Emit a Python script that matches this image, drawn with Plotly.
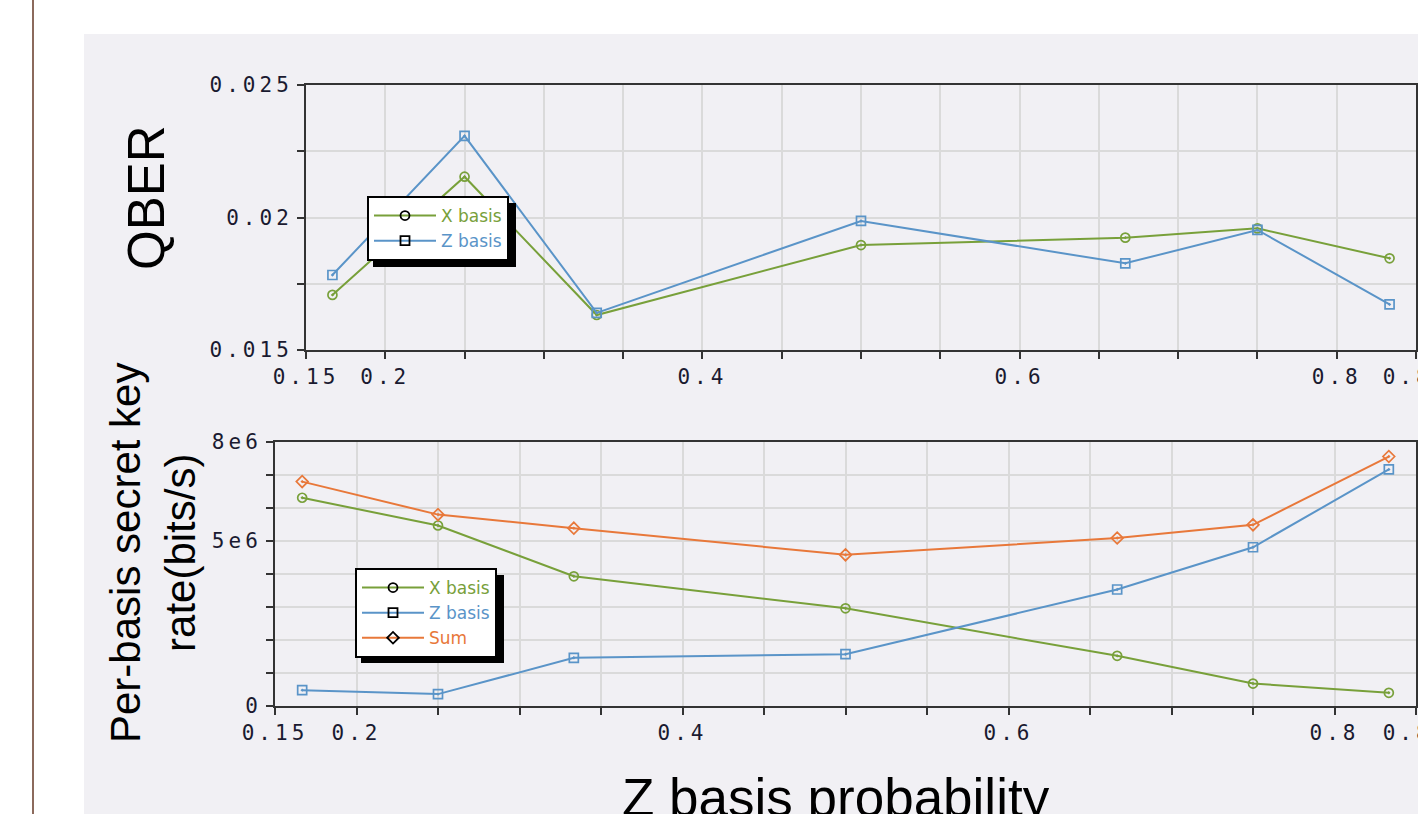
import plotly.graph_objects as go

# ---------------- data ----------------
z_prob = [1/6, 1/4, 1/3, 1/2, 2/3, 3/4, 5/6]

qber_x = [0.01708, 0.02154, 0.01632, 0.01896, 0.01924, 0.01959, 0.01846]
qber_z = [0.01783, 0.02308, 0.01640, 0.01987, 0.01827, 0.01953, 0.01672]

rate_x = [6.31e6, 5.47e6, 3.93e6, 2.96e6, 1.52e6, 0.68e6, 0.40e6]
rate_z = [0.48e6, 0.36e6, 1.46e6, 1.57e6, 3.53e6, 4.81e6, 7.17e6]
rate_sum = [6.80e6, 5.80e6, 5.39e6, 4.58e6, 5.09e6, 5.49e6, 7.56e6]

x_tickvals = [0.15, 0.2, 0.4, 0.6, 0.8, 0.85]
x_ticktext = ["0.15", "0.2", "0.4", "0.6", "0.8", "0.85"]
q_tickvals = [0.015, 0.02, 0.025]
q_ticktext = ["0.015", "0.02", "0.025"]
r_tickvals = [0, 5e6, 8e6]
r_ticktext = ["0", "5e6", "8e6"]

# ---------------- style ----------------
W, H = 1418, 814
def px(v):
    return v / W
def py(v):
    return 1 - v / H

GREEN = "#78a03a"
BLUE = "#5a94c8"
ORANGE = "#e8783a"
PANEL = "#f1f0f4"
GRID = "#dadada"
AXIS = "#333333"
TICKFONT = dict(family="DejaVu Sans Mono", size=21, color="#1a1a30")
LEGFONT = dict(family="DejaVu Sans", size=17, color="#000000")

fig = go.Figure()

series_top = [("X basis", qber_x, GREEN, "circle-open-dot"),
              ("Z basis", qber_z, BLUE, "square-open-dot")]
series_bot = [("X basis", rate_x, GREEN, "circle-open-dot"),
              ("Z basis", rate_z, BLUE, "square-open-dot"),
              ("Sum", rate_sum, ORANGE, "diamond-open-dot")]

for name, ys, col, sym in series_top:
    fig.add_trace(go.Scatter(x=z_prob, y=ys, mode="lines+markers", name=name,
                             line=dict(color=col, width=2),
                             marker=dict(symbol=sym, size=9, color=col, line=dict(width=1.7)),
                             xaxis="x", yaxis="y", showlegend=False))
for name, ys, col, sym in series_top:
    fig.add_trace(go.Scatter(x=[None], y=[None], mode="lines+markers",
                             name="<span style='color:%s'>%s</span>" % (col, name),
                             line=dict(color=col, width=2),
                             marker=dict(symbol=sym.replace("-dot", ""), size=9, color="#000000",
                                         line=dict(width=1.8)),
                             xaxis="x", yaxis="y", legend="legend"))

for name, ys, col, sym in series_bot:
    fig.add_trace(go.Scatter(x=z_prob, y=ys, mode="lines+markers", name=name,
                             line=dict(color=col, width=2),
                             marker=dict(symbol=sym, size=9, color=col, line=dict(width=1.7)),
                             xaxis="x2", yaxis="y2", showlegend=False))
for name, ys, col, sym in series_bot:
    fig.add_trace(go.Scatter(x=[None], y=[None], mode="lines+markers",
                             name="<span style='color:%s'>%s</span>" % (col, name),
                             line=dict(color=col, width=2),
                             marker=dict(symbol=sym.replace("-dot", ""), size=9, color="#000000",
                                         line=dict(width=1.8)),
                             xaxis="x2", yaxis="y2", legend="legend2"))

def xaxis(domain, anchor):
    return dict(domain=domain, anchor=anchor, range=[0.15, 0.85], automargin=False,
                tickmode="array", tickvals=x_tickvals, ticktext=x_ticktext,
                ticks="outside", ticklen=7, tickwidth=2, tickcolor=AXIS,
                showline=True, linewidth=2, linecolor=AXIS, mirror=True,
                showgrid=True, gridcolor=GRID, gridwidth=1.5,
                minor=dict(tickmode="linear", tick0=0.15, dtick=0.05, ticks="outside",
                           ticklen=7, tickwidth=2, tickcolor=AXIS,
                           showgrid=True, gridcolor=GRID, gridwidth=1.5),
                tickfont=TICKFONT, ticklabeloverflow="allow", zeroline=False,
                fixedrange=True)

def yaxis(domain, anchor, rng, tv, tt, minor_dt):
    return dict(domain=domain, anchor=anchor, range=rng, automargin=False,
                tickmode="array", tickvals=tv, ticktext=tt,
                ticks="outside", ticklen=7, tickwidth=2, tickcolor=AXIS,
                showline=True, linewidth=2, linecolor=AXIS, mirror=True,
                showgrid=True, gridcolor=GRID, gridwidth=1.5,
                minor=dict(tickmode="linear", tick0=rng[0], dtick=minor_dt, ticks="outside",
                           ticklen=7, tickwidth=2, tickcolor=AXIS,
                           showgrid=True, gridcolor=GRID, gridwidth=1.5),
                tickfont=TICKFONT, ticklabeloverflow="allow", zeroline=False,
                fixedrange=True)

fig.update_layout(
    width=W, height=H, autosize=False,
    margin=dict(l=0, r=0, t=0, b=0, pad=0, autoexpand=False),
    paper_bgcolor="#ffffff",
    plot_bgcolor=PANEL,
    xaxis=xaxis([px(306), px(1416)], "y"),
    yaxis=yaxis([py(350), py(85)], "x", [0.015, 0.025], q_tickvals, q_ticktext, 0.0025),
    xaxis2=xaxis([px(275), px(1416)], "y2"),
    yaxis2=yaxis([py(706), py(442)], "x2", [0, 8e6], r_tickvals, r_ticktext, 1e6),
    legend=dict(x=px(367), y=py(196), xanchor="left", yanchor="top",
                bgcolor="#ffffff", bordercolor="#000000", borderwidth=2,
                font=LEGFONT, tracegroupgap=0, itemwidth=62),
    legend2=dict(x=px(355), y=py(568), xanchor="left", yanchor="top",
                 bgcolor="#ffffff", bordercolor="#000000", borderwidth=2,
                 font=LEGFONT, tracegroupgap=0, itemwidth=62),
    showlegend=True,
)

# slide background panel and left rule
fig.add_shape(type="rect", xref="paper", yref="paper", x0=px(84), x1=px(1420),
              y0=py(816), y1=py(34), fillcolor=PANEL, line=dict(width=0), layer="below")
fig.add_shape(type="line", xref="paper", yref="paper", x0=px(33), x1=px(33),
              y0=0, y1=1, line=dict(color="#8c6a5c", width=2), layer="below")

# legend drop shadows
fig.add_shape(type="rect", xref="paper", yref="paper", x0=px(373), x1=px(516),
              y0=py(267), y1=py(203), fillcolor="#000000", line=dict(width=0), layer="above")
fig.add_shape(type="rect", xref="paper", yref="paper", x0=px(361), x1=px(504),
              y0=py(663), y1=py(575), fillcolor="#000000", line=dict(width=0), layer="above")

# titles
TITLEFONT = "Liberation Sans, Arial, sans-serif"
fig.add_annotation(text="QBER", xref="paper", yref="paper", x=px(147), y=py(198),
                   xanchor="center", yanchor="middle", textangle=-90, showarrow=False,
                   font=dict(family=TITLEFONT, size=51, color="#000000"))
fig.add_annotation(text="Per-basis secret key<br>rate(bits/s)", xref="paper", yref="paper",
                   x=px(153), y=py(553), xanchor="center", yanchor="middle", textangle=-90,
                   showarrow=False, align="center",
                   font=dict(family=TITLEFONT, size=42, color="#000000"))
fig.add_annotation(text="Z basis probability", xref="paper", yref="paper", x=px(836), y=py(766),
                   xanchor="center", yanchor="top", showarrow=False,
                   font=dict(family=TITLEFONT, size=53, color="#000000"))

post = """
document.body.style.margin = '0';
document.body.style.overflow = 'hidden';
var gd = document.getElementById('{plot_id}');
function ls(){
  gd.querySelectorAll('g.xtick text, g.ytick text, g.x2tick text, g.y2tick text').forEach(function(t){
    t.style.letterSpacing = '4px';
  });
}
ls();
setTimeout(ls, 50);
gd.on('plotly_afterplot', ls);
"""

fig.write_html("out.html", post_script=post, config={"displayModeBar": False})
